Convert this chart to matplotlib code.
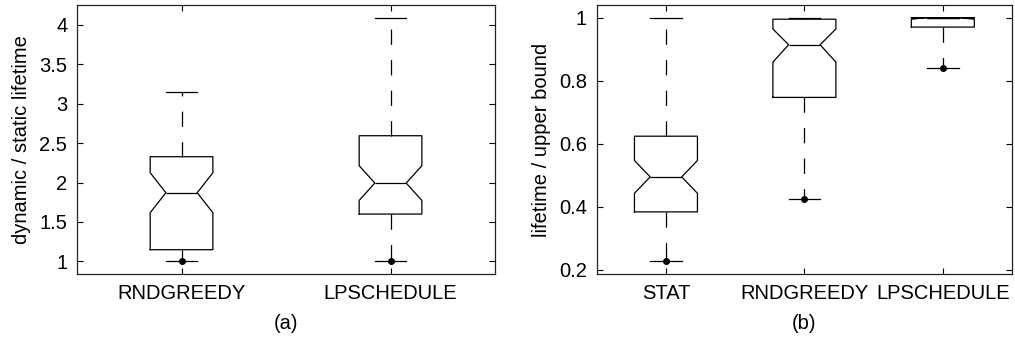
import numpy as np
import matplotlib
matplotlib.use('Agg')
import matplotlib.pyplot as plt
from matplotlib.ticker import FuncFormatter

plt.rcParams['font.family'] = ['Liberation Sans', 'DejaVu Sans']
plt.rcParams['font.size'] = 14.5
plt.rcParams['lines.scale_dashes'] = False

# (a) dynamic / static lifetime
labels_a = ['RNDGREEDY', 'LPSCHEDULE']
q1_a = [1.148, 1.600]
med_a = [1.870, 1.993]
q3_a = [2.327, 2.593]
cilo_a = [1.617, 1.773]
cihi_a = [2.124, 2.213]
whislo_a = [1.0, 1.0]
whishi_a = [3.150, 4.089]

# (b) lifetime / upper bound
labels_b = ['STAT', 'RNDGREEDY', 'LPSCHEDULE']
q1_b = [0.384, 0.747, 0.970]
med_b = [0.495, 0.914, 1.000]
q3_b = [0.624, 0.995, 1.000]
cilo_b = [0.443, 0.859, 0.995]
cihi_b = [0.547, 0.964, 1.000]
whislo_b = [0.2275, 0.425, 0.8415]
whishi_b = [1.000, 1.000, 1.000]


def make_stats(q1, med, q3, cilo, cihi, lo, hi):
    st = []
    for i in range(len(q1)):
        st.append(dict(q1=q1[i], med=med[i], q3=q3[i], cilo=cilo[i], cihi=cihi[i],
                       whislo=lo[i], whishi=hi[i], fliers=[lo[i]]))
    return st


def fmt(v, pos):
    return ('%g' % round(v, 3))


fig = plt.figure(figsize=(10.15, 3.39), dpi=100)
ax1 = fig.add_axes([0.0759, 0.1917, 0.4118, 0.7935])
ax2 = fig.add_axes([0.5879, 0.1917, 0.4092, 0.7935])

lw = 0.9
props = dict(
    shownotches=True, patch_artist=False,
    boxprops=dict(color='black', linewidth=lw),
    medianprops=dict(color='black', linewidth=lw),
    whiskerprops=dict(color='black', linewidth=lw, linestyle=(0, (11, 11))),
    capprops=dict(color='black', linewidth=lw),
    flierprops=dict(marker='o', markerfacecolor='black', markeredgecolor='black', markersize=4),
)

ax1.bxp(make_stats(q1_a, med_a, q3_a, cilo_a, cihi_a, whislo_a, whishi_a),
        positions=[1, 2], widths=0.3, **props)
ax2.bxp(make_stats(q1_b, med_b, q3_b, cilo_b, cihi_b, whislo_b, whishi_b),
        positions=[1, 2, 3], widths=0.455, **props)

ax1.set_xlim(0.5, 2.5)
ax1.set_ylim(0.84, 4.25)
ax1.set_yticks([1, 1.5, 2, 2.5, 3, 3.5, 4])
ax1.set_xticks([1, 2])
ax1.set_xticklabels(labels_a)
ax1.set_ylabel('dynamic / static lifetime')
ax1.set_xlabel('(a)')

ax2.set_xlim(0.5, 3.5)
ax2.set_ylim(0.187, 1.04)
ax2.set_yticks([0.2, 0.4, 0.6, 0.8, 1.0])
ax2.set_xticks([1, 2, 3])
ax2.set_xticklabels(labels_b)
ax2.set_ylabel('lifetime / upper bound')
ax2.set_xlabel('(b)')

for ax in (ax1, ax2):
    ax.yaxis.set_major_formatter(FuncFormatter(fmt))
    ax.tick_params(direction='in', top=True, right=True, length=4, width=0.8, pad=7)
    ax.xaxis.labelpad = 8
    ax.yaxis.labelpad = 6
    for s in ax.spines.values():
        s.set_linewidth(0.9)
        s.set_color('#222222')

fig.savefig('out.png', dpi=100)
